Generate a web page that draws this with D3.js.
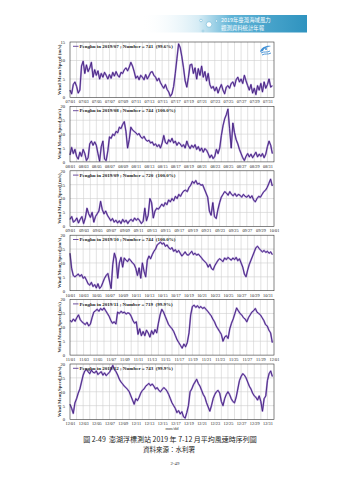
<!DOCTYPE html>
<html><head><meta charset="utf-8">
<script src="https://cdn.jsdelivr.net/npm/d3@7"></script>
<style>html,body{margin:0;padding:0;background:#fff;}svg{display:block;}</style>
</head><body>
<script>
// ---- data (6-hourly mean wind speed, m/s) ----
const months = ["2019/07","2019/08","2019/09","2019/10","2019/11","2019/12"];
const counts = [741,744,720,744,719,743];
const ratios = ["99.6%","100.0%","100.0%","100.0%","99.9%","99.9%"];
const yMaxes = [15,20,20,20,20,20];
const yTicks15 = [0,5,10,15];
const yTicks20 = [0,5,10,15,20];

const julSpeed = [2.0,1.0,3.5,4.2, 3.0,1.2,2.0,8.5, 9.8,6.5,8.8,7.0, 8.0,9.5,5.5,7.5, 6.0,7.2,5.0,6.5, 5.5,6.8,6.0,5.0, 6.2,5.2,6.8,5.8, 7.0,6.0,5.5,6.8, 6.5,7.5,8.0,7.2, 8.2,9.5,8.5,7.0, 5.2,5.8,4.8,6.0, 5.5,4.8,6.2,5.0, 5.8,6.8,7.0,6.0, 5.5,4.5,5.2,4.0, 3.2,2.5,3.5,2.2, 1.5,0.3,1.0,3.0, 6.5,10.5,14.5,13.5, 11.0,8.0,4.5,2.8, 5.5,8.8,9.0,6.5, 8.0,5.0,7.8,6.0, 8.5,5.5,7.0,4.5, 6.5,3.5,2.5,3.0, 1.8,2.8,1.2,2.5, 3.5,2.0,1.0,2.8, 3.2,2.5,3.8,4.2, 3.0,4.8,5.5,4.2, 5.0,3.8,6.0,4.5, 3.2,2.0,3.5,1.2, 2.5,0.8,3.2,2.0, 3.8,1.5,4.2,2.5, 3.5,5.0,2.8,3.2];
const augSpeed = [2.5,5.2,3.0,4.5, 2.0,1.0,3.5,2.0, 4.5,3.0,0.5,1.5, 6.5,7.5,6.0,7.2, 6.0,3.0,0.3,5.5, 7.5,1.0,0.5,4.0, 9.0,8.5,10.0,9.5, 11.0,10.5,12.5,12.0, 13.5,14.5,11.0,5.0, 8.0,12.5,11.5,11.0, 10.5,9.8,10.2,9.0, 8.5,9.2,8.0,7.5, 7.8,6.8,7.2,6.0, 6.5,5.5,6.2,5.0, 6.8,9.5,7.0,6.5, 8.0,7.2,8.5,6.8, 7.5,6.0,7.0,6.5, 5.5,6.2,5.0,7.5, 5.8,4.8,6.0,5.2, 6.2,4.5,5.5,4.0, 5.0,3.5,4.8,4.2, 3.0,1.5,2.5,1.2, 2.0,4.5,3.0,5.0, 9.5,13.0,15.5,17.0, 19.0,12.0,5.0,14.0, 10.5,8.0,6.5,4.5, 3.0,1.5,0.5,2.0, 3.0,1.8,2.8,1.5, 2.5,3.5,1.8,2.8, 2.0,3.0,1.5,2.8, 5.5,7.5,6.0,3.0];
const sepSpeed = [2.5,3.5,1.5,2.0, 3.0,1.2,2.5,3.5, 1.0,3.0,6.5,4.5, 3.2,5.0,1.5,3.5, 4.5,5.5,9.0,6.0, 4.5,5.5,4.0,3.0, 2.0,2.8,1.5,2.2, 1.2,2.0,1.0,2.5, 1.5,2.2,1.0,2.0, 2.5,1.8,3.0,2.2, 2.8,2.0,1.0,1.8, 6.5,2.0,4.0,10.0, 8.5,3.0,5.5,6.5, 6.2,7.0,8.0,7.2, 8.5,7.8,9.5,8.8, 10.0,9.2,10.8,10.0, 11.5,10.8,12.0,12.8, 13.0,12.5,14.0,14.8, 16.2,15.5,16.5,15.2, 15.5,14.8,15.0,13.5, 12.0,10.5,5.5,4.0, 8.5,3.5,2.8,6.0, 8.5,10.5,11.5,12.5, 12.0,11.2,12.5,11.5, 11.0,11.8,10.8,11.5, 11.2,10.5,11.5,10.8, 10.5,11.2,10.2,11.0, 9.5,8.8,10.0,10.8, 10.5,11.5,12.5,13.0, 14.0,15.5,17.0,14.5];
const octSpeed = [13.5,8.0,5.5,5.0, 5.5,6.0,5.2,5.8, 4.5,5.0,3.8,2.5, 2.0,3.0,1.5,2.2, 1.0,2.5,0.8,1.5, 3.0,4.5,5.5,6.2, 3.5,0.8,9.5,13.5, 11.5,4.5,10.0,12.0, 8.5,11.8,11.0,10.5, 11.5,10.8,10.0,9.5, 8.0,5.5,8.2,4.5, 10.0,7.0,5.0,11.0, 12.5,11.5,13.0,14.2, 15.0,16.5,17.0,17.5, 16.8,17.2,16.0,16.5, 15.5,15.0,15.5,14.2, 14.8,13.8,14.5,13.5, 12.5,13.2,14.0,13.0, 12.8,13.5,14.2,13.0, 13.5,12.8,13.2,12.5, 11.8,11.0,10.5,9.8, 8.5,9.5,8.0,7.5, 9.0,10.0,11.0,11.5, 11.0,10.5,11.8,11.2, 12.0,11.5,11.0,11.8, 11.2,12.0,10.8,11.5, 10.0,8.5,6.0,5.0, 7.5,9.5,11.0,12.5, 14.0,15.5,16.0,15.2, 14.5,14.0,14.5,13.8, 14.2,13.5,14.0,13.0];
const novSpeed = [12.5,12.0,13.0,12.2, 13.5,14.5,12.8,12.0, 11.5,11.0,11.8,10.5, 11.2,13.5,15.5,16.0, 16.5,15.8,16.8,16.2, 17.0,16.0,15.0,14.0, 12.5,11.5,12.0,11.2, 15.5,15.0,15.8,15.2, 15.5,14.8,15.2,15.0, 14.0,12.5,11.5,12.0, 7.5,9.5,7.0,8.5, 7.0,9.0,8.0,6.5, 8.8,7.5,9.2,8.0, 11.5,14.5,16.5,15.5, 14.0,12.5,11.0,10.2, 9.5,8.5,7.0,5.5, 4.5,3.5,2.5,4.0, 3.0,4.5,8.0,14.5, 17.5,18.0,17.2,17.8, 17.0,17.5,16.8,17.2, 16.5,15.8,15.0,14.2, 13.0,12.0,10.5,9.5, 8.5,7.5,5.0,6.5, 7.0,6.0,9.5,11.5, 13.0,15.0,17.0,16.0, 15.0,14.5,13.5,13.0, 12.0,13.5,14.5,15.5, 16.0,16.8,15.5,15.0, 14.5,13.5,12.5,11.0, 10.5,9.0,8.0,4.5];
const decSpeed = [5.5,4.0,2.2,6.0, 7.5,9.5,11.0,13.5, 16.0,17.5,18.0,17.2, 16.5,17.8,17.0,16.8, 17.5,16.2,16.8,17.2, 16.0,16.8,15.8,16.5, 17.0,18.2,19.5,18.0, 17.2,16.0,14.5,13.5, 12.8,12.0,11.5,10.8, 10.0,8.5,7.0,5.5, 7.5,6.8,8.0,9.5, 10.5,11.0,12.0,12.5, 13.0,12.2,12.8,12.0, 11.0,11.5,10.5,10.0, 10.8,11.5,11.0,10.2, 9.0,7.5,6.0,5.0, 4.0,2.5,3.2,2.0, 2.8,1.0,0.5,2.5, 5.0,10.0,11.0,12.5, 13.5,14.5,13.0,12.0, 10.5,9.0,8.0,6.0, 4.5,3.0,5.0,7.5, 9.0,10.0,10.5,9.5, 6.5,5.0,7.5,9.0, 10.0,9.0,7.5,6.5, 6.0,8.0,11.0,14.0, 15.5,16.5,16.0,15.0, 13.5,12.0,11.0,9.5, 8.5,8.0,7.0,8.5, 6.5,3.0,7.5,8.5, 14.0,16.5,17.5,15.5];
const speeds = [julSpeed, augSpeed, sepSpeed, octSpeed, novSpeed, decSpeed];

const julTicks = ["07/01","07/03","07/05","07/07","07/09","07/11","07/13","07/15","07/17","07/19","07/21","07/23","07/25","07/27","07/29","07/31"];
const augTicks = ["08/01","08/03","08/05","08/07","08/09","08/11","08/13","08/15","08/17","08/19","08/21","08/23","08/25","08/27","08/29","08/31"];
const sepTicks = ["09/01","09/03","09/05","09/07","09/09","09/11","09/13","09/15","09/17","09/19","09/21","09/23","09/25","09/27","09/29","10/01"];
const octTicks = ["10/01","10/03","10/05","10/07","10/09","10/11","10/13","10/15","10/17","10/19","10/21","10/23","10/25","10/27","10/29","10/31"];
const novTicks = ["11/01","11/03","11/05","11/07","11/09","11/11","11/13","11/15","11/17","11/19","11/21","11/23","11/25","11/27","11/29","12/01"];
const decTicks = ["12/01","12/03","12/05","12/07","12/09","12/11","12/13","12/15","12/17","12/19","12/21","12/23","12/25","12/27","12/29","12/31"];
const tickSets = [julTicks, augTicks, sepTicks, octTicks, novTicks, decTicks];

const captionText = "圖 2-49  澎湖浮標測站 2019 年 7-12 月平均風速時序列圖";
const sourceText = "資料來源：水利署";
const pageText = "2-49";
const headerLines = ["2019年臺灣海域風力","觀測資料統計年報"];

// ---- drawing ----
const W = 339, H = 480;
const serif = "'Liberation Serif','DejaVu Serif',serif";
const cjk = "'Noto Sans CJK TC','Noto Sans CJK SC',sans-serif";
const svg = d3.select("body").append("svg").attr("width", W).attr("height", H)
  .style("background", "#fff");

// header banner
const defs = svg.append("defs");
const g1 = defs.append("linearGradient").attr("id","bn").attr("x1","0").attr("x2","1").attr("y1","0").attr("y2","0");
g1.append("stop").attr("offset","0").attr("stop-color","#ffffff").attr("stop-opacity",0);
g1.append("stop").attr("offset","0.35").attr("stop-color","#d6ecf5").attr("stop-opacity",1);
g1.append("stop").attr("offset","0.55").attr("stop-color","#5fb3d6");
g1.append("stop").attr("offset","1").attr("stop-color","#2f93bf");
svg.append("rect").attr("x",140).attr("y",15).attr("width",167).attr("height",17.5).attr("fill","url(#bn)");
[[201,20.5,1.3],[209,24.5,2.8],[216.5,21,1.1],[203,31,0.9]].forEach(c=>{
  svg.append("circle").attr("cx",c[0]).attr("cy",c[1]).attr("r",c[2])
    .attr("fill","#fff").attr("stroke","#6fb8d6").attr("stroke-width",0.6);
});
headerLines.forEach((t,k)=>{
  svg.append("text").attr("x",221).attr("y",21.6+k*8.3).text(t)
    .attr("font-family",cjk).attr("font-size",5.4).attr("fill","#fff");
});

const left = 70, right = 274, ph = 55.5;
months.forEach((m,i)=>{
  const top = 42 + i*64.4, bottom = top + ph;
  const start = new Date(Date.UTC(2019, 6+i, 1));
  const end = new Date(Date.UTC(2019, 7+i, 1));
  const x = d3.scaleUtc().domain([start,end]).range([left,right]);
  const y = d3.scaleLinear().domain([0,yMaxes[i]]).range([bottom,top]);
  const g = svg.append("g");
  const yt = yMaxes[i] === 15 ? yTicks15 : yTicks20;

  // grid
  d3.utcDay.range(d3.utcDay.offset(start,1), end).forEach(d=>{
    g.append("line").attr("x1",x(d)).attr("x2",x(d)).attr("y1",top).attr("y2",bottom)
      .attr("stroke","#cfcfcf").attr("stroke-width",0.6);
  });
  yt.slice(1,-1).forEach(v=>{
    g.append("line").attr("x1",left).attr("x2",right).attr("y1",y(v)).attr("y2",y(v))
      .attr("stroke","#cfcfcf").attr("stroke-width",0.6);
  });

  // series
  const pts = speeds[i].map((v,k)=>({t:new Date(start.getTime()+k*6*3600e3), v}));
  const line = d3.line().x(d=>x(d.t)).y(d=>y(d.v));
  g.append("path").datum(pts).attr("d",line).attr("fill","none")
    .attr("stroke","#8e6cc6").attr("stroke-width",1.8).attr("stroke-opacity",0.75)
    .attr("stroke-linejoin","round");
  g.append("path").datum(pts).attr("d",line).attr("fill","none")
    .attr("stroke","#3e1a7a").attr("stroke-width",0.85).attr("stroke-linejoin","round");

  // frame
  g.append("rect").attr("x",left).attr("y",top).attr("width",right-left).attr("height",ph)
    .attr("fill","none").attr("stroke","#333").attr("stroke-width",0.6);

  // y axis
  const ya = g.append("g").attr("transform",`translate(${left},0)`)
    .call(d3.axisLeft(y).tickValues(yt).tickSize(0).tickPadding(5));
  ya.select(".domain").remove();
  ya.selectAll("text").attr("font-family",serif).attr("font-size",4.6).attr("fill","#222")
    .attr("dy","0.3em");

  // x axis
  const tickDates = tickSets[i].map(s=>{
    const [mm,dd] = s.split("/").map(Number);
    return new Date(Date.UTC(2019, mm-1, dd));
  });
  const xa = g.append("g").attr("transform",`translate(0,${bottom})`)
    .call(d3.axisBottom(x).tickValues(tickDates).tickSize(0).tickPadding(0)
      .tickFormat((d,k)=>tickSets[i][k]));
  xa.select(".domain").remove();
  xa.selectAll("text").attr("font-family",serif).attr("font-size",4.3).attr("fill","#222")
    .attr("dy",null).attr("y",5.9);

  // y label
  g.append("text").attr("transform",`translate(60.5,${top+ph/2}) rotate(-90)`)
    .attr("text-anchor","middle").attr("font-family",serif).attr("font-size",4.9)
    .attr("font-weight","bold").attr("fill","#333").text("Wind Mean Speed (m/s)");

  // legend
  g.append("line").attr("x1",left+3).attr("x2",left+8.5).attr("y1",top+4.3).attr("y2",top+4.3)
    .attr("stroke","#4a2384").attr("stroke-width",0.8);
  g.append("text").attr("x",left+9.5).attr("y",top+6)
    .attr("font-family",serif).attr("font-size",5).attr("font-weight","bold").attr("fill","#222")
    .attr("xml:space","preserve").style("white-space","pre")
    .text(`Penghu in ${m} ; Number = ${counts[i]}  (${ratios[i]})`);

  if (i === 0) {
    const lg = g.append("g").attr("transform",`translate(${right-15},${top+3})`);
    lg.append("path").attr("d","M1,7 C2,2 8,0 12,1 C9,2 5,3 4,6 Z").attr("fill","#3f8fd4");
    lg.append("path").attr("d","M2,8 C5,6 8,8 11,6").attr("fill","none").attr("stroke","#3f8fd4").attr("stroke-width",0.9);
    lg.append("path").attr("d","M3,10 C6,8 9,10 12,8").attr("fill","none").attr("stroke","#3f8fd4").attr("stroke-width",0.9);
    lg.append("circle").attr("cx",7).attr("cy",4).attr("r",1).attr("fill","#3f8fd4");
  }
});

svg.append("text").attr("x",172).attr("y",429.5).attr("text-anchor","middle")
  .attr("font-family",serif).attr("font-size",4.6).attr("fill","#333").text("mm/dd");
svg.append("text").attr("x",170).attr("y",441.5).attr("text-anchor","middle")
  .attr("font-family",cjk).attr("font-size",7).attr("fill","#222")
  .style("white-space","pre").text(captionText);
svg.append("text").attr("x",169).attr("y",452).attr("text-anchor","middle")
  .attr("font-family",cjk).attr("font-size",6.5).attr("fill","#222").text(sourceText);
svg.append("text").attr("x",175).attr("y",465).attr("text-anchor","middle")
  .attr("font-family",serif).attr("font-size",4.8).attr("fill","#333").text(pageText);
</script>
</body></html>
